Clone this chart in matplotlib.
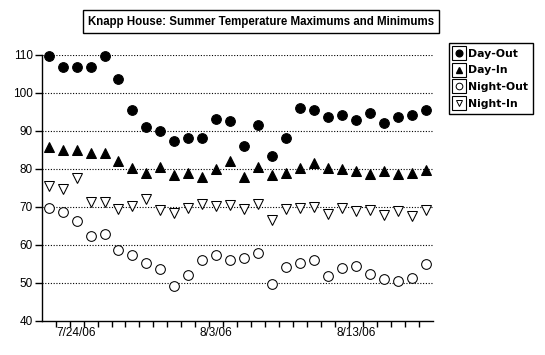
#!/usr/bin/env python3

import numpy as np
import matplotlib
matplotlib.use('Agg')
import matplotlib.pyplot as plt
import matplotlib.dates as mdates
from matplotlib.lines import Line2D
from matplotlib.legend_handler import HandlerTuple
from datetime import datetime

# Data (one reading per day, 7/22/06 .. 8/18/06)
start_date = datetime(2006, 7, 22)
n_days = 28

day_out = [109.6, 106.8, 106.8, 106.8, 109.6, 103.5, 95.4, 90.9, 89.9, 87.3,
           88.1, 88.1, 93.0, 92.6, 86.0, 91.4, 83.5, 88.1, 95.9, 95.6,
           93.7, 94.1, 92.8, 94.8, 92.0, 93.7, 94.1, 95.4]
day_in = [85.8, 84.9, 84.9, 84.1, 84.2, 82.1, 80.1, 79.0, 80.6, 78.4,
          78.8, 77.9, 80.0, 82.1, 77.9, 80.4, 78.3, 79.0, 80.3, 81.6,
          80.3, 80.0, 79.5, 78.6, 79.5, 78.7, 79.0, 79.6]
night_out = [69.6, 68.6, 66.4, 62.4, 63.0, 58.6, 57.3, 55.3, 53.6, 49.2,
             52.0, 56.0, 57.3, 56.0, 56.6, 57.9, 49.7, 54.1, 55.3, 56.0,
             51.8, 53.9, 54.5, 52.4, 51.1, 50.6, 51.3, 55.0]
night_in = [75.5, 74.6, 77.5, 71.4, 71.4, 69.5, 70.3, 72.1, 69.1, 68.5,
            69.7, 70.7, 70.3, 70.5, 69.5, 70.7, 66.5, 69.5, 69.8, 69.9,
            68.1, 69.8, 68.8, 69.3, 67.9, 69.0, 67.7, 69.2]

labeled_dates = [datetime(2006, 7, 24), datetime(2006, 8, 3), datetime(2006, 8, 13)]
labeled_text = ['7/24/06', '8/3/06', '8/13/06']

title = 'Knapp House: Summer Temperature Maximums and Minimums'

fig = plt.figure(figsize=(5.45, 3.55), dpi=100)
ax = fig.add_axes([0.0765, 0.0958, 0.7174, 0.750])

# points sit at midday, ticks mark the day boundaries
x0 = mdates.date2num(start_date)
x = x0 + np.arange(n_days) + 0.5

lw = 0.75
ax.plot(x, day_out, 'o', ms=7, mfc='black', mec='black', mew=lw, clip_on=False, zorder=3)
ax.plot(x, day_in, '^', ms=7, mfc='black', mec='black', mew=lw, clip_on=False, zorder=3)
ax.plot(x, night_out, 'o', ms=7, mfc='white', mec='black', mew=lw, clip_on=False, zorder=3)
ax.plot(x, night_in, 'v', ms=6.5, mfc='white', mec='black', mew=lw, clip_on=False, zorder=3)

ax.set_xlim(x0, x0 + n_days)
ax.set_ylim(40, 110)

# Axes styling
for side in ['top', 'right']:
    ax.spines[side].set_visible(False)
for side in ['left', 'bottom']:
    ax.spines[side].set_linewidth(1)

ax.set_yticks(np.arange(40, 111, 10))
ax.tick_params(axis='y', direction='out', length=5, width=1, pad=1.5, labelsize=8.5)
for v in range(50, 111, 10):
    ax.axhline(v, color='black', linestyle=(0, (1, 1.5)), linewidth=0.8, zorder=1)

ax.set_xticks(x0 + np.arange(1, n_days))
ax.set_xticklabels([])
ax.tick_params(axis='x', which='major', direction='out', length=4, width=1)
ax.set_xticks([mdates.date2num(d) + 0.5 for d in labeled_dates], minor=True)
ax.set_xticklabels(labeled_text, minor=True)
ax.tick_params(axis='x', which='minor', length=0, pad=4, labelsize=8.5)

for lab in ax.get_xticklabels(minor=True) + ax.get_yticklabels():
    lab.set_fontfamily('Liberation Sans')

# Title in a box
fig.text(0.479, 1 - 21.5 / 355, title, ha='center', va='center',
         fontsize=8.3, fontweight='bold', family='Liberation Sans',
         bbox=dict(boxstyle='square,pad=0.45', fc='white', ec='black', lw=1))

# Legend with markers inside little boxes
box = Line2D([], [], marker='s', ms=9.5, mfc='white', mec='black', mew=0.8, ls='none')
handles = [
    (box, Line2D([], [], marker='o', ms=4.8, mfc='black', mec='black', ls='none')),
    (box, Line2D([], [], marker='^', ms=4.8, mfc='black', mec='black', ls='none')),
    (box, Line2D([], [], marker='o', ms=4.8, mfc='white', mec='black', mew=0.7, ls='none')),
    (box, Line2D([], [], marker='v', ms=4.8, mfc='white', mec='black', mew=0.7, ls='none')),
]
labels = ['Day-Out', 'Day-In', 'Night-Out', 'Night-In']
leg = fig.legend(handles, labels, loc='upper left',
                 bbox_to_anchor=(449 / 545, 1 - 43.3 / 355), bbox_transform=fig.transFigure,
                 borderaxespad=0, handler_map={tuple: HandlerTuple(ndivide=1, pad=0)},
                 handlelength=0.9, handletextpad=0.35, labelspacing=0.62,
                 borderpad=0.5, fancybox=False, framealpha=1,
                 prop={'family': 'DejaVu Sans', 'weight': 'bold', 'size': 7.8})
leg.get_frame().set_edgecolor('black')
leg.get_frame().set_linewidth(1)

fig.savefig('out.png', dpi=100)
